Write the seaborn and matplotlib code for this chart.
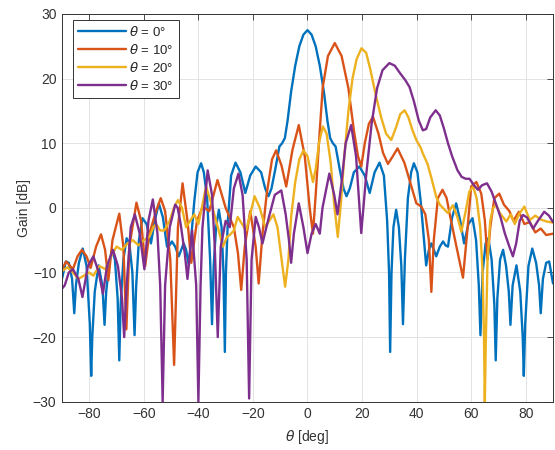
import numpy as np
import pandas as pd
import matplotlib
matplotlib.use("Agg")
import matplotlib.pyplot as plt
import seaborn as sns

# steering angles and line colours (MATLAB default order)
steer_labels = [r"$\theta$ = 0°", r"$\theta$ = 10°", r"$\theta$ = 20°", r"$\theta$ = 30°"]
line_colors = ["#0072BD", "#D95319", "#EDB120", "#7E2F8E"]

# theta = 0 deg
theta_0 = [-90, -88.6, -87.5, -86.3, -85.5, -84.9, -83.8, -82.4, -81, -79.8, -79.3, -78.9, -78, -76.6,
           -75.2, -74.4, -73.8, -72.8, -71.7, -70.6, -69.6, -69, -68.5, -67.5, -66.3, -65.3, -64.2,
           -63.4, -62.8, -61.8, -60.5, -59, -57.4, -56, -54.5, -53, -51.5, -50.6, -49.7, -48.5, -47.2,
           -46.3, -45.4, -44.5, -43.5, -42.5, -41.5, -40.3, -39, -38, -36.8, -35.7, -35, -34.4, -33.5,
           -32.5, -31.5, -30.8, -30.3, -29.9, -29.2, -28, -26.4, -24.6, -22.8, -21, -19, -17, -15.5,
           -14.3, -13.2, -11.8, -10.3, -9.3, -8.3, -7.3, -6, -4.5, -3, -1.5,
           0, 1.5, 3, 4.5, 6, 7.3, 8.3, 9.3, 10.3, 11.8, 13.2, 14.3, 15.5, 17, 19, 21, 22.8, 24.6,
           26.4, 28, 29.2, 29.9, 30.3, 30.8, 31.5, 32.5, 33.5, 34.4, 35, 35.7, 36.8, 38, 39, 40.3,
           41.5, 42.5, 43.5, 44.5, 45.4, 46.3, 47.2, 48.5, 49.7, 50.6, 51.5, 53, 54.5, 56, 57.4, 59,
           60.5, 61.8, 62.8, 63.4, 64.2, 65.3, 66.3, 67.5, 68.5, 69, 69.6, 70.6, 71.7, 72.8, 73.8,
           74.4, 75.2, 76.6, 78, 78.9, 79.3, 79.8, 81, 82.4, 83.8, 84.9, 85.5, 86.3, 87.5, 88.6, 90]
gain_0 = [-11, -8.3, -8.5, -11, -16.3, -12, -8.5, -6.3, -9, -18, -26, -20, -13, -8.9,
          -12, -18.1, -13, -9, -6.5, -8, -14, -23.6, -15, -8, -4.7, -5.5, -10,
          -19.7, -12, -5, -1.6, -2.5, -5.5, -2, 0.7, -1.5, -6, -5.8, -5.2, -6, -7.5,
          -6.5, -5.5, -6.5, -8.9, -4, 1, 5.5, 6.9, 5.5, 1.5, -8, -18, -9, -3,
          -0.3, -3, -10, -22.3, -10, -2, 5, 7.0, 5.5, 2.3, 5, 6.4, 5.5, 3,
          1.8, 3, 6, 9.5, 10, 10.8, 13.5, 18, 22, 25, 26.8,
          27.5, 26.8, 25, 22, 18, 13.5, 10.8, 10, 9.5, 6, 3, 1.8, 3, 5.5, 6.4, 5, 2.3, 5.5,
          7.0, 5, -2, -10, -22.3, -10, -3, -0.3, -3, -9, -18, -8, 1.5, 5.5, 6.9, 5.5,
          1, -4, -8.9, -6.5, -5.5, -6.5, -7.5, -6, -5.2, -5.8, -6, -1.5, 0.7, -2, -5.5, -2.5,
          -1.6, -5, -12, -19.7, -10, -5.5, -4.7, -8, -15, -23.6, -14, -8, -6.5, -9, -13,
          -18.1, -12, -8.9, -13, -20, -26, -18, -9, -6.3, -8.5, -12, -16.3, -11, -8.5, -8.3, -11.7]

# theta = 10 deg
theta_10 = [-90, -88.5, -87, -86, -84.3, -82.7, -81, -79.5, -77.5, -75.7, -74.2, -73, -71.5, -69,
            -67.5, -66.4, -65.3, -62.7, -61, -59.5, -58, -55.5, -53.8, -52.2, -50.3, -48.9, -47.5,
            -45.8, -44, -42.6, -40.5, -38.4, -36, -33, -30, -27, -25.5, -24.3, -23, -21, -19, -17.9,
            -16.5, -15, -13, -11.5, -9.5, -7.8, -5.5, -3.2, -1, 0.8, 2, 3, 4.5, 5.6, 7.5, 10, 12.5,
            15, 17, 18.5, 19.7, 21, 22.5, 24, 26, 27.7, 29.5, 31.3, 33, 35.5, 37.4, 39.9, 41.7, 43.2,
            44.5, 45.4, 46.3, 47.8, 49.5, 51, 52.1, 54.6, 57, 58.5, 60, 61.9, 63.7, 65, 66, 67, 68.5,
            70.3, 72, 74, 75.5, 77.5, 79.5, 81.5, 83.5, 85.5, 87.5, 90]
gain_10 = [-9.5, -8.3, -9, -9.5, -7.5, -6.5, -7.5, -9.3, -6, -4.1, -6.5, -11.2, -5, -0.9,
           -6, -18.8, -6, 0.8, -2, -9, -4, -0.5, 1.5, -0.5, -8, -24.3, -3,
           3.8, -2, -8.5, -2, 0.2, -0.5, 4.3, 0, -3, -7, -12.7, -6, -0.5, -6, -11.7,
           -4, 2, 7.5, 8.9, 6.5, 3.3, 9, 12.8, 8, 0, -4, 2, 12, 18.7, 23.5, 25.5, 23.5,
           18.5, 12, 8, 6.4, 10, 13, 14.1, 11.5, 8.5, 6.8, 8, 9.2, 7, 4.3, 0.7, 0.2, -1,
           -5, -13, -5, 1.5, 2.8, 1.5, -0.9, -6, -10.8, -4, 3.3, 4, 2.2, -1.9, -8, -3, 1.5,
           2.2, 0.5, -0.5, -2, -0.6, -2.5, -2.2, -3.8, -3.2, -4.2, -4]

# theta = 20 deg
theta_20 = [-90, -88, -86, -84, -82, -80, -78.5, -76.3, -74, -72, -70, -68, -66, -64, -62, -60, -58,
            -56.5, -55.5, -54, -52.5, -50.5, -49, -47.5, -46, -44.5, -43, -41.5, -40, -38.5, -37.2,
            -35.5, -33.5, -31, -29.5, -28.5, -27, -25.6, -24, -22.5, -21, -19.4, -17.5, -15.5, -14,
            -12.5, -11, -9.8, -8.2, -7, -6, -4.5, -3, -1.5, 0, 1, 2, 3, 4.2, 5.6, 7, 8.5, 9.8, 11.1,
            12.3, 13.5, 15, 16.5, 18, 19.8, 21.5, 23, 25, 27, 28.8, 30.7, 32.5, 34, 35.6, 37, 38.5,
            39.9, 41.5, 42.3, 44, 45.5, 47.2, 48.5, 50.3, 51.5, 53.3, 55, 56.4, 58, 59.3, 60.7, 62,
            63.3, 64.2, 64.7, 65, 65.4, 66, 67, 68, 69.2, 70.5, 72.9, 74.5, 76, 77.5, 79.5, 81.5,
            83.5, 85.5, 87.6, 90]
gain_20 = [-9.8, -9.2, -10, -11, -10.5, -10, -10.5, -9, -9.5, -7.5, -6, -6.5, -5.5, -5, -5.8, -5, -4.5,
           -3, -2.5, -3.5, -3.5, -2, 0, 1.2, 0, -3, -2, -1, -2.5, 0.5, 3.3,
           1, -2, -6, -4.5, -4.2, -3.5, -1.4, -2.5, -3.5, -1, 1.8, 0, -3, -2,
           -1, -3, -7, -12.2, -8, -1.4, 4, 7.5, 8.9, 8, 6, 4, 6, 10, 12.6, 11.5, 7, 0.5, -4.5,
           1, 8, 15, 20, 23, 24.7, 24, 21.5, 17.5, 14, 11.5, 10.5, 12.5, 14.5, 15.1, 14, 12,
           10.5, 9.3, 8.4, 6.8, 4.5, 1.7, 0.5, -0.3, -0.8, 0.4, -1.5, -3.7, -0.5, 2.5, 3.3, 1.5,
           -3, -10, -20, -30, -20, -8, -2, 0, 0.4, -0.8, -2.1, -1, -2.5, -1, 0.2, -1.9,
           -1.2, -1.8, -2.1, -2.3]

# theta = 30 deg
theta_30 = [-90, -89, -87.5, -86, -84, -82.5, -80.5, -78.5, -76.5, -75, -73.5, -71.3, -69.5, -68,
            -67.2, -66.3, -64.8, -63.3, -61.5, -59.8, -58.3, -56.7, -55, -54, -53.1, -52.2, -50.5,
            -48.5, -47.6, -46.5, -45, -44, -42.3, -40.8, -40, -39.2, -38.5, -36.6, -35, -34, -32.9,
            -31.8, -30, -28.5, -27, -25.3, -23.8, -22.3, -21.4, -20.5, -19, -17.8, -16.5, -14.5, -12,
            -9.6, -8, -6.8, -6, -5, -3.2, -1.5, 0, 1.5, 3, 4.5, 5.5, 8, 9.8, 11, 12.5, 14, 16, 17.8,
            19.7, 21.5, 23.5, 25.5, 27.5, 30, 32, 34, 35.8, 37.4, 39, 40.8, 42.3, 43.5, 45, 47, 48.5,
            50, 51.5, 53, 55, 56.5, 58, 59.4, 61, 62.5, 64, 65.8, 67.5, 69.2, 70.8, 72.3, 74, 75.3,
            76.5, 77.8, 79, 80.5, 82.7, 84.5, 86.8, 88.5, 90]
gain_30 = [-12.5, -12, -10, -9.5, -11, -13.8, -9, -7.5, -10, -13.3, -9, -6.5, -9, -14,
           -20, -12, -3, -1, -4, -9.5, -2, 1.3, -4, -12, -30, -12, -3,
           0.5, 0, -2.5, -7, -11, -3.5, -12, -30, -12, -3, 5.8, 2, -6, -20,
           -6, -2, -3, 3, 5.3, 2, -8, -29.5, -8, -1.4, -3, -5.5, -2, 2,
           2.7, -1, -5, -8.5, -4, 0.7, -3, -7, -4, -2.5, -4, 0, 5.3, 2, -1, 4, 10, 12.8, 8,
           -3.9, 5, 13, 18.5, 21.3, 22.4, 22, 20.8, 19.8, 18.7, 16.5, 13.5, 12, 12.2, 14, 15.1, 14.3,
           12.3, 10, 8, 5.8, 4.8, 4.5, 4.5, 3.5, 2.8, 3.5, 3.8, 2.5, 0.5, -1.5, -3.9, -6, -7.5,
           -5.5, -2, -1.1, -1.5, -3.2, -2, -0.6, -1.2, -2.2]

frames = []
for lab, th, g in zip(steer_labels, [theta_0, theta_10, theta_20, theta_30],
                      [gain_0, gain_10, gain_20, gain_30]):
    frames.append(pd.DataFrame({"theta": th, "gain": g, "steer": lab}))
df = pd.concat(frames, ignore_index=True)

sns.set_theme(style="whitegrid")
plt.rcParams["font.family"] = ["Liberation Sans", "DejaVu Sans"]
plt.rcParams["mathtext.fontset"] = "dejavusans"
plt.rcParams["lines.solid_joinstyle"] = "round"

fig = plt.figure(figsize=(5.55, 4.5), dpi=100)
ax = fig.add_axes([0.1117, 0.1073, 0.8847, 0.8616])

sns.lineplot(data=df, x="theta", y="gain", hue="steer", palette=line_colors,
             estimator=None, sort=False, linewidth=1.7, ax=ax)

ax.set_xlim(-90, 90)
ax.set_ylim(-30, 30)
ax.set_xticks(np.arange(-80, 81, 20))
ax.set_yticks(np.arange(-30, 31, 10))
ax.set_xlabel(r"$\theta$ [deg]", fontsize=10, color="#333333", labelpad=5)
ax.set_ylabel("Gain [dB]", fontsize=10, color="#333333", labelpad=1)
ax.tick_params(direction="in", length=4, width=0.6, top=True, right=True,
               labelsize=10, colors="#333333", pad=4)
ax.set_facecolor("white")
ax.grid(True, color="#E3E3E3", linewidth=0.7)
for s in ax.spines.values():
    s.set_color("#333333")
    s.set_linewidth(0.7)

leg = ax.legend(loc="upper left", bbox_to_anchor=(0.022, 0.985), borderaxespad=0,
                fontsize=9.5, handlelength=3.6, handletextpad=0.25, labelspacing=0.3,
                frameon=True, fancybox=False, framealpha=1, borderpad=0.4)
leg.get_frame().set_edgecolor("#333333")
leg.get_frame().set_linewidth(0.7)

fig.savefig("out.png", dpi=100)
